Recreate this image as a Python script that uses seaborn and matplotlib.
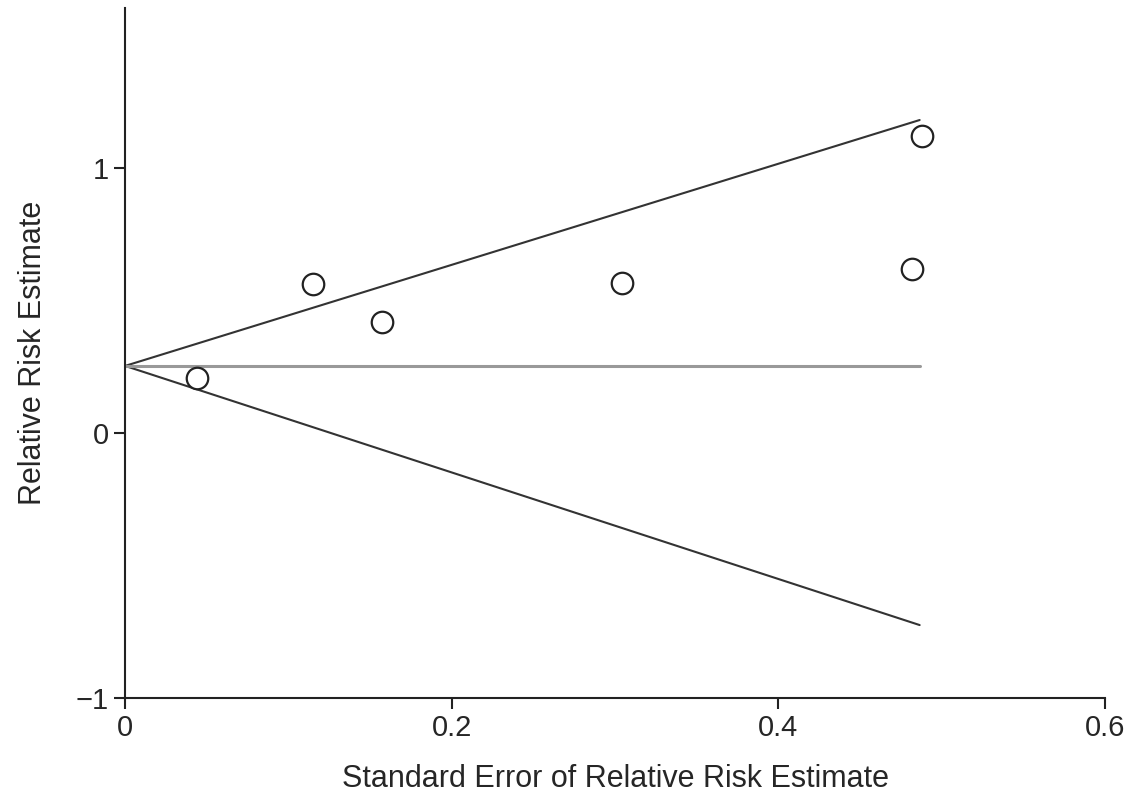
import numpy as np
import pandas as pd
import matplotlib
matplotlib.use("Agg")
import matplotlib.pyplot as plt
import seaborn as sns

# Study estimates
se_values = [0.044, 0.115, 0.157, 0.304, 0.482, 0.488]
rr_values = [0.208, 0.562, 0.419, 0.566, 0.619, 1.121]

# Pooled estimate and funnel limits
pooled = 0.253
funnel_se = [0.0, 0.4865]
upper_limit = [0.253, 1.181]
lower_limit = [0.253, -0.725]

x_ticks = [0, 0.2, 0.4, 0.6]
x_tick_labels = ["0", "0.2", "0.4", "0.6"]
y_ticks = [-1, 0, 1]
y_tick_labels = ["\u22121", "0", "1"]

sns.set_style("ticks")
plt.rcParams['font.family'] = ['Liberation Sans Narrow', 'Liberation Sans', 'DejaVu Sans']

df = pd.DataFrame({'se': se_values, 'rr': rr_values})

fig = plt.figure(figsize=(11.27, 7.94), dpi=100)
ax = fig.add_axes([0.111, 0.121, 0.8695, 0.869])

# funnel lines
ax.plot(funnel_se, upper_limit, color='#333333', linewidth=1.5)
ax.plot(funnel_se, lower_limit, color='#333333', linewidth=1.5)
ax.plot(funnel_se, [pooled, pooled], color='#999999', linewidth=2.2)

sns.scatterplot(data=df, x='se', y='rr', ax=ax, marker='o', s=240,
                facecolor='white', edgecolor='#222222', linewidth=1.6, zorder=3)

ax.set_xlim(0, 0.6)
ax.set_ylim(-1, 1.604)
ax.set_xticks(x_ticks)
ax.set_xticklabels(x_tick_labels)
ax.set_yticks(y_ticks)
ax.set_yticklabels(y_tick_labels)
ax.tick_params(axis='both', labelsize=21, length=8, width=1.5, color='#222222')
ax.set_xlabel('Standard Error of Relative Risk Estimate', fontsize=22, labelpad=16)
ax.set_ylabel('Relative Risk Estimate', fontsize=22, labelpad=20)

sns.despine(ax=ax)
for side in ['left', 'bottom']:
    ax.spines[side].set_linewidth(1.5)
    ax.spines[side].set_color('#222222')

fig.savefig('out.png', dpi=100)
